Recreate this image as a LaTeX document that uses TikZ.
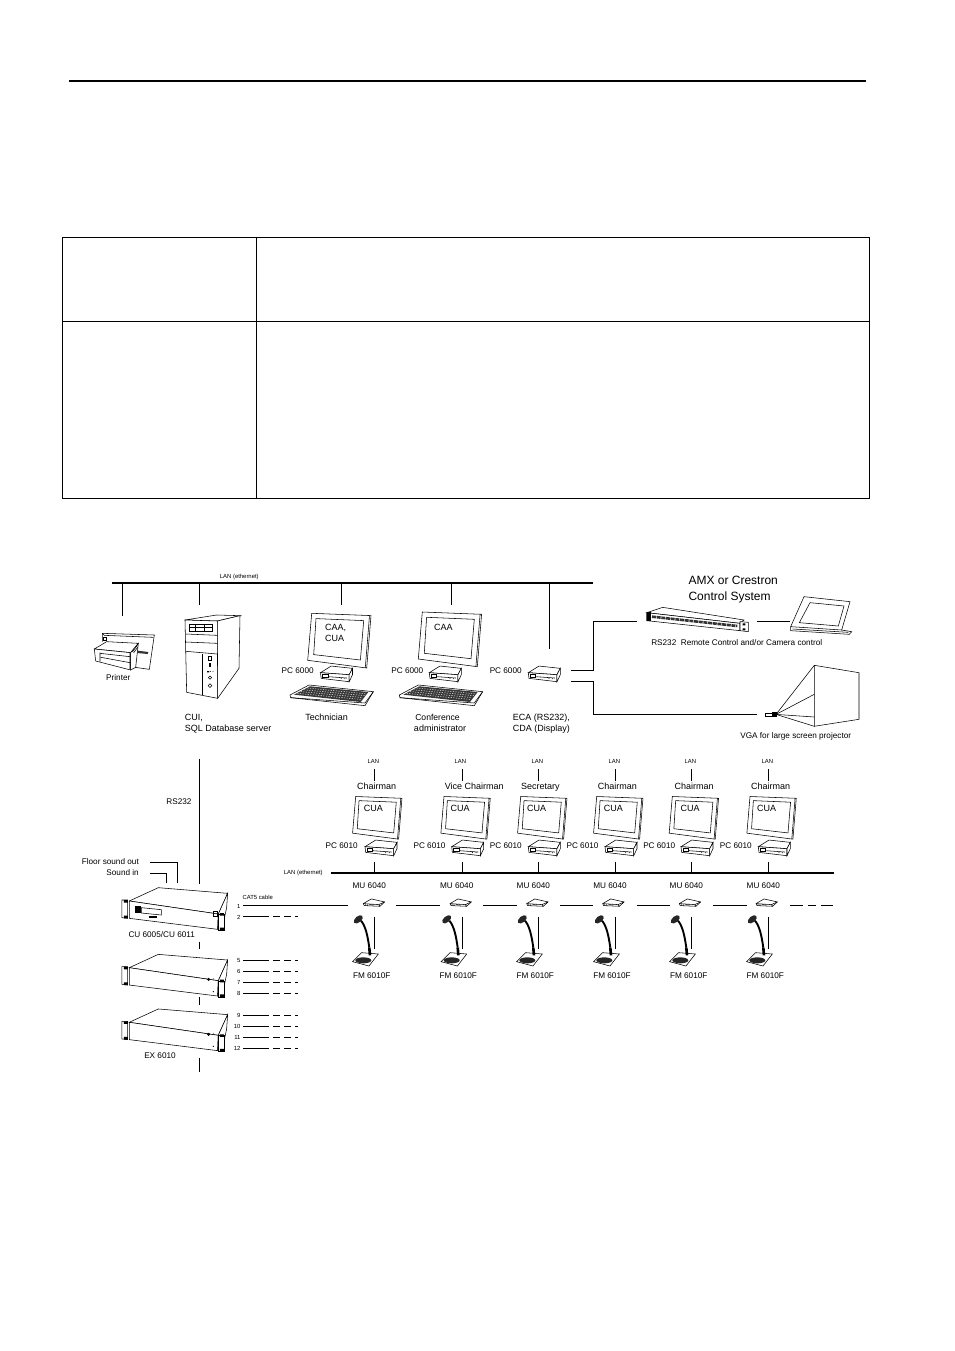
\documentclass[tikz,border=0pt]{standalone}
\usepackage{fontspec}
\usetikzlibrary{calc}
\setmainfont{Liberation Sans}
\tikzset{
  px/.style={x=1pt,y=-1pt},
  crop/.style={x=0.33333pt,y=-0.33333pt},
  ln/.style={line width=0.95pt,black},
  thin ln/.style={line width=0.55pt,black},
  heavy/.style={line width=1.5pt,black},
  txt/.style={inner sep=0pt,font=\fontsize{9}{10}\selectfont,anchor=mid},
  txtl/.style={txt,anchor=mid west},
  txtr/.style={txt,font=\fontsize{8.2}{10}\selectfont,anchor=mid east},
  dev/.style={txt,font=\fontsize{8.2}{10}\selectfont},
  tiny lab/.style={inner sep=0pt,font=\fontsize{5.9}{7}\selectfont,anchor=mid},
  big lab/.style={inner sep=0pt,font=\fontsize{12}{14}\selectfont,anchor=mid west}
}
% monitor: top-left corner of frame; scale factor
\newcommand{\monitorpic}[3]{%
  \begin{scope}[shift={(#1,#2)},x=#3pt,y=-#3pt]
    \draw[thin ln] (0,0)--(59.3,2.3)--(55,54.7)--(-4,47)--cycle;
    \draw[thin ln] (4.3,5.3)--(52,7.3)--(48.7,46.7)--(2,41.3)--cycle;
    \draw[thin ln] (57.8,2.3)--(53.6,54.5);
  \end{scope}}
% small PC: left corner of the box
\newcommand{\pcpic}[2]{%
  \begin{scope}[shift={(#1,#2)},crop]
    \draw[thin ln,fill=white] (0,0)--(32,-20)--(96,-13)--(86,6)--cycle;
    \draw[thin ln,fill=white] (0,0)--(86,6)--(86,27)--(2,17)--cycle;
    \draw[thin ln,fill=white] (86,6)--(96,-13)--(96,6)--(86,27)--cycle;
    \draw[thin ln] (6,5) rectangle (22,14);
    \draw[thin ln] (24,12)--(80,16);
    \fill (62,17) circle (1.6) (73,18) circle (1.6);
  \end{scope}}
% keyboard
\newcommand{\kbdpic}[2]{%
  \begin{scope}[shift={(#1,#2)},crop]
    \draw[thin ln,fill=white] (0,0)--(57,-30)--(250,-10)--(225,32)--(2,8)--cycle;
    \fill[black!78] (12,-1)--(60,-26)--(235,-9)--(212,21)--cycle;
    \foreach \k in {0,1,2,3}
      \draw[white,line width=0.45pt,dash pattern=on 1.2pt off 1.4pt]
        ($(22,-5)+(\k*10,-\k*5.4)$)--($(212,13)+(\k*6,-\k*5.4)$);
    \draw[thin ln] (2,8)--(225,24)--(250,-10);
  \end{scope}}
% rack unit: front top-left corner
\newcommand{\rackpic}[2]{%
  \begin{scope}[shift={(#1,#2)},crop]
    \draw[thin ln,fill=white] (0,0)--(87,-40)--(295,-23)--(267,39)--cycle;
    \draw[thin ln,fill=white] (0,0)--(267,39)--(265,85)--(0,52)--cycle;
    \draw[thin ln,fill=white] (267,39)--(295,-23)--(292,20)--(278,85)--(265,85)--cycle;
    \draw[thin ln,fill=white] (-22,-3)--(-5,-3)--(-5,52)--(-22,50)--cycle;
    \draw[thin ln,fill=white] (268,40)--(285,40)--(285,88)--(268,88)--cycle;
    \fill (-16,-3) rectangle (-4,5) (-16,44) rectangle (-4,52);
    \fill (272,36) rectangle (284,44) (272,80) rectangle (284,88);
  \end{scope}}
% table microphone: wire x
\newcommand{\micpic}[1]{%
  \begin{scope}[shift={(#1,916)},crop]
    \draw[thin ln] (-65,137)--(-38,110)--(12,114)--(-16,150)--cycle;
    \fill[black!85] (-33,133) ellipse (24 and 9);
    \draw[line width=1.9pt,black] (-40,14) .. controls (-26,30) and (-20,60) .. (-15,95);
    \draw[line width=2.6pt,black] (-15,95)--(-13,118);
    \fill[black!85,rotate around={40:(-48,10)}] (-48,10) ellipse (16 and 9);
  \end{scope}}
\newcommand{\mupic}[2]{%
  \begin{scope}[shift={(#1,#2)},crop]
    \draw[thin ln,fill=white] (0,0)--(24,-14)--(64,-5)--(50,8)--(3,6)--cycle;
    \draw[thin ln] (0,0)--(46,3)--(64,-5) (46,3)--(50,8);
    \draw[thin ln] (6,2)--(6,6) (12,2)--(12,6) (18,3)--(30,4);
  \end{scope}}
\begin{document}
\begin{tikzpicture}[px]
\useasboundingbox (0,0) rectangle (954,1351);
\fill[white] (0,0) rectangle (954,1351);

% --- page header rule and empty table
\coordinate (hdrL) at (69,81); \coordinate (hdrR) at (866,81);
\draw[line width=1.8pt] (hdrL)--(hdrR);
\draw[ln] (62.5,237) rectangle (869.5,498);
\draw[ln] (62.5,321)--(869.5,321);
\draw[ln] (256.5,237)--(256.5,498);

% --- top LAN
\coordinate (lanL) at (111.5,583); \coordinate (lanR) at (593,583);
\draw[heavy] (lanL)--(lanR);
\node[tiny lab] (lanlab) at (239.3,575.7) {LAN (ethernet)};
\foreach \n/\x/\y in {prn/122.3/615.7,srv/199.3/604.7,tech/341.3/604.7,conf/451.7/604.7,eca/549.3/648.7}{
  \coordinate (\n T) at (\x,583); \coordinate (\n B) at (\x,\y);
  \draw[ln] (\n T)--(\n B);
}

% --- printer
\begin{scope}[shift={(85,610)},crop]
  \draw[thin ln] (52,95)--(52,70)--(208,75)--(193,178)--(150,172);
  \draw[thin ln] (52,70)--(58,76)--(205,82);
  \draw[thin ln] (54,82) rectangle (63,91);
  \draw[thin ln,fill=white] (28,117)--(65,95)--(160,100)--(137,128)--cycle;
  \draw[thin ln,fill=white] (28,117)--(137,128)--(137,180)--(32,153)--cycle;
  \draw[thin ln,fill=white] (137,128)--(160,100)--(152,172)--(137,180)--cycle;
  \draw[thin ln] (45,128)--(45,155) (45,130)--(135,140) (48,142)--(135,158) (135,128)--(135,178);
  \draw[thin ln] (142,126)--(157,106) (146,128)--(158,112);
  \fill[black!80] (158,122)--(190,126)--(188,132)--(156,129)--cycle;
\end{scope}
\node[dev] (printer) at (118.3,677.7) {Printer};

% --- server tower
\begin{scope}[shift={(60,560)},crop]
  \draw[thin ln,fill=white] (375,180)--(470,165)--(540,167)--(472,183)--cycle;
  \draw[thin ln,fill=white] (375,180)--(472,183)--(473,415)--(380,397)--cycle;
  \draw[thin ln,fill=white] (472,183)--(540,167)--(537,325)--(473,415)--cycle;
  \draw[thin ln] (388,192) rectangle (458,213);
  \draw[thin ln] (388,202)--(458,202) (405,192)--(405,213) (432,192)--(432,213);
  \draw[thin ln] (378,222)--(472,226) (378,246)--(472,250) (378,274)--(472,282);
  \draw[thin ln] (427,282)--(427,405);
  \draw[thin ln] (446,290) rectangle (454,300);
  \fill (446,310) rectangle (454,320);
  \fill (441,333) rectangle (447,337) (451,334) circle (1.6) (459,335) circle (1.4);
  \draw[thin ln] (450,353) circle (5);
  \draw[thin ln] (450,377) circle (5.5);
\end{scope}
\node[txtl] (cui) at (184.7,717.7) {CUI,};
\node[txtl] (sql) at (184.7,729) {SQL Database server};

% --- workstations
\monitorpic{311.7}{613.3}{1}
\monitorpic{422.3}{612}{1}
\node[txtl] (caa1) at (325,628.3) {CAA,};
\node[txtl] (cua1) at (325,639.3) {CUA};
\node[txtl] (caa2) at (434,628.3) {CAA};
\pcpic{320.5}{672.7}
\pcpic{429.3}{672.7}
\pcpic{528.3}{672.7}
\kbdpic{290}{695}
\kbdpic{399.3}{695}
\node[dev] (pc1) at (297.7,670.7) {PC 6000};
\node[dev] (pc2) at (407.3,670.7) {PC 6000};
\node[dev] (pc3) at (505.7,670.7) {PC 6000};
\node[txt] (techlab) at (326.7,717.7) {Technician};
\node[txt,font=\fontsize{8.6}{10}\selectfont] (conflab) at (437.5,717.7) {Conference};
\node[txt] (admlab) at (440,729) {administrator};
\node[txtl] (ecalab) at (512.7,717.7) {ECA (RS232),};
\node[txtl] (cdalab) at (512.7,729) {CDA (Display)};

% --- control system
\node[big lab] (amx) at (688.3,582.3) {AMX or Crestron};
\node[big lab] (ctl) at (688.3,597.7) {Control System};
\begin{scope}[shift={(640,590)},crop]
  \draw[thin ln,fill=white] (20,68)--(68,52)--(312,90)--(300,100)--cycle;
  \draw[thin ln,fill=white] (20,68)--(300,100)--(300,122)--(20,92)--cycle;
  \fill (20,66) rectangle (32,92);
  \draw[line width=2.6pt,black!80,dash pattern=on 4pt off 0.7pt] (36,80)--(292,108);
  \draw[thin ln,fill=white] (300,95)--(325,97)--(325,125)--(300,122)--cycle;
  \fill (308,100) rectangle (316,106) (308,115) rectangle (316,121);
  % touch panel
  \draw[thin ln] (492,20)--(630,35)--(605,120)--(452,110)--cycle;
  \draw[thin ln] (510,38)--(612,48)--(595,108)--(478,98)--cycle;
  \draw[thin ln] (452,110)--(452,122)--(628,133)--(635,125)--(605,120);
  \draw[thin ln] (458,117)--(625,127);
\end{scope}
\coordinate (ecaA) at (571.3,670); \coordinate (bendA1) at (593.3,670);
\coordinate (bendA2) at (593.3,621.3); \coordinate (rackIn) at (636.7,621.3);
\draw[ln] (ecaA)--(bendA1)--(bendA2)--(rackIn);
\coordinate (rackOut) at (757.3,621.3); \coordinate (panelIn) at (790,621.3);
\draw[ln] (rackOut)--(panelIn);
\node[txt,font=\fontsize{8.2}{9}\selectfont] (rs232a) at (736.7,643.3) {RS232\ \ Remote Control and/or Camera control};

% --- projector
\coordinate (ecaB) at (571.3,681.5); \coordinate (bendB1) at (593.3,681.5);
\coordinate (bendB2) at (593.3,714.4); \coordinate (projIn) at (757.3,714.4);
\draw[ln] (ecaB)--(bendB1)--(bendB2)--(projIn);
\coordinate (lens) at (776,714.4);
\coordinate (s1) at (814.3,665.3); \coordinate (s2) at (859,672.7);
\coordinate (s3) at (859,719.3); \coordinate (s4) at (814.3,726.3);
\coordinate (s5) at (814.3,694.3); \coordinate (s6) at (814.3,717);
\draw[thin ln] (s1)--(s2)--(s3)--(s4)--cycle;
\foreach \p in {s1,s5,s6,s4} \draw[thin ln] (lens)--(\p);
\draw[thin ln,fill=white] (765.7,712.8) rectangle (772,716.5);
\fill (772,711.8) rectangle (777,716.8);
\node[txt,font=\fontsize{8.2}{9}\selectfont] (vga) at (795.7,735.7) {VGA for large screen projector};

% --- backbone RS232 and sound
\foreach \n/\a/\b in {1/758.7/884,2/941.7/949.3,3/996.7/1005,4/1058.3/1071.7}{
  \coordinate (bbT\n) at (199.3,\a); \coordinate (bbB\n) at (199.3,\b);
  \draw[ln] (bbT\n)--(bbB\n);
}
\node[dev] (rs232) at (179,802) {RS232};
\node[txtr] (floor) at (139,862.3) {Floor sound out};
\node[txtr] (sound) at (139,873) {Sound in};
\coordinate (fl1) at (150,862.7); \coordinate (fl2) at (177.7,862.7); \coordinate (fl3) at (177.7,883.3);
\coordinate (so1) at (150,873.3); \coordinate (so2) at (166.7,873.3); \coordinate (so3) at (166.7,883.3);
\draw[ln] (fl1)--(fl2)--(fl3);
\draw[ln] (so1)--(so2)--(so3);

% --- central units
\rackpic{129.3}{901}
\rackpic{129.3}{967.7}
\rackpic{129.3}{1022.3}
\begin{scope}[shift={(129.3,901)},crop]
  \fill (18,16) rectangle (36,36);
  \draw[thin ln] (36,20)--(96,26)--(96,42)--(36,36)--cycle;
  \fill (58,44) rectangle (82,50);
  \draw[thin ln] (252,30) rectangle (264,46);
\end{scope}
\begin{scope}[shift={(129.3,967.7)},crop]
  \fill (238,35) circle (5); \fill (252,33) circle (1.3) (252,72) circle (2);
\end{scope}
\begin{scope}[shift={(129.3,1022.3)},crop]
  \fill (238,36) circle (5); \fill (252,33) circle (1.3) (252,72) circle (2);
\end{scope}
\node[dev] (culab) at (161.7,935) {CU 6005/CU 6011};
\node[dev] (exlab) at (160,1055.7) {EX 6010};
\node[tiny lab,anchor=mid west] (cat5) at (242.3,897.3) {CAT5 cable};

% --- numbered CAT5 stubs
\foreach \n/\y in {2/916.7,5/960,6/971,7/982,8/993,9/1015,10/1026,11/1037,12/1048}{
  \node[tiny lab,anchor=mid east] (num\n) at (240.7,\y) {\n};
  \coordinate (st\n a) at (243.3,\y); \coordinate (st\n b) at (269,\y);
  \coordinate (st\n c) at (273,\y);   \coordinate (st\n d) at (280,\y);
  \coordinate (st\n e) at (284,\y);   \coordinate (st\n f) at (291,\y);
  \coordinate (st\n g) at (295,\y);   \coordinate (st\n h) at (298,\y);
  \draw[ln] (st\n a)--(st\n b) (st\n c)--(st\n d) (st\n e)--(st\n f) (st\n g)--(st\n h);
}
\node[tiny lab,anchor=mid east] (num1) at (240.7,906) {1};

% --- conference LAN
\coordinate (lan2L) at (330.7,872.8); \coordinate (lan2R) at (834,872.8);
\draw[heavy] (lan2L)--(lan2R);
\node[tiny lab] (lan2lab) at (303.3,872.3) {LAN (ethernet)};

% --- delegate positions
\foreach \i/\dx/\mx/\cx/\rx/\lx/\plx/\pbx/\mlx/\mbx/\fx/\role in {
 1/374.3/355.7/373.3/376.7/373.3/341.7/365/369.3/363.3/371.7/Chairman,
 2/462.7/444/460/474.3/460.3/429.5/451.7/456.7/450/458.3/Vice Chairman,
 3/538.3/520.7/536.7/540.3/537.3/505.8/528.3/533.3/526.7/535.3/Secretary,
 4/615.3/596.7/613.3/617.3/614.3/582.5/605/610/602.7/612/Chairman,
 5/691.3/672.3/690/694/690.3/659.2/681/686.3/679.3/688.7/Chairman,
 6/768.3/750/766.7/770.7/767.3/735.8/758.3/763.3/756/765.3/Chairman}{
  \node[tiny lab] (lanL\i) at (\lx,760.7) {LAN};
  \coordinate (upT\i) at (\dx,769.3); \coordinate (upB\i) at (\dx,780.7);
  \draw[ln] (upT\i)--(upB\i);
  \node[txt] (role\i) at (\rx,786.7) {\role};
  \monitorpic{\mx}{796.5}{0.78}
  \node[txt] (cua\i) at (\cx,809) {CUA};
  \pcpic{\pbx}{846.7}
  \node[dev] (pcL\i) at (\plx,845.7) {PC 6010};
  \coordinate (pcD\i) at (\dx,861.7); \coordinate (lanD\i) at (\dx,872.8);
  \draw[ln] (pcD\i)--(lanD\i);
  \node[dev] (mu\i) at (\mlx,885.7) {MU 6040};
  \mupic{\mbx}{903.6}
  \micpic{\dx}
  \coordinate (wT\i) at (\dx,916.7); \coordinate (wB\i) at (\dx,949.3);
  \draw[ln] (wT\i)--(wB\i);
  \node[dev] (fm\i) at (\fx,976) {FM 6010F};
}

% --- CAT5 daisy chain
\foreach \n/\a/\b in {1/243.3/348.3,2/396/440,3/483.3/516.7,4/560/593.3,5/636.7/670,6/713.3/746.7,7/790/803,8/808/816,9/821/833}{
  \coordinate (chA\n) at (\a,905.8); \coordinate (chB\n) at (\b,905.8);
  \draw[ln] (chA\n)--(chB\n);
}
\end{tikzpicture}
\end{document}
